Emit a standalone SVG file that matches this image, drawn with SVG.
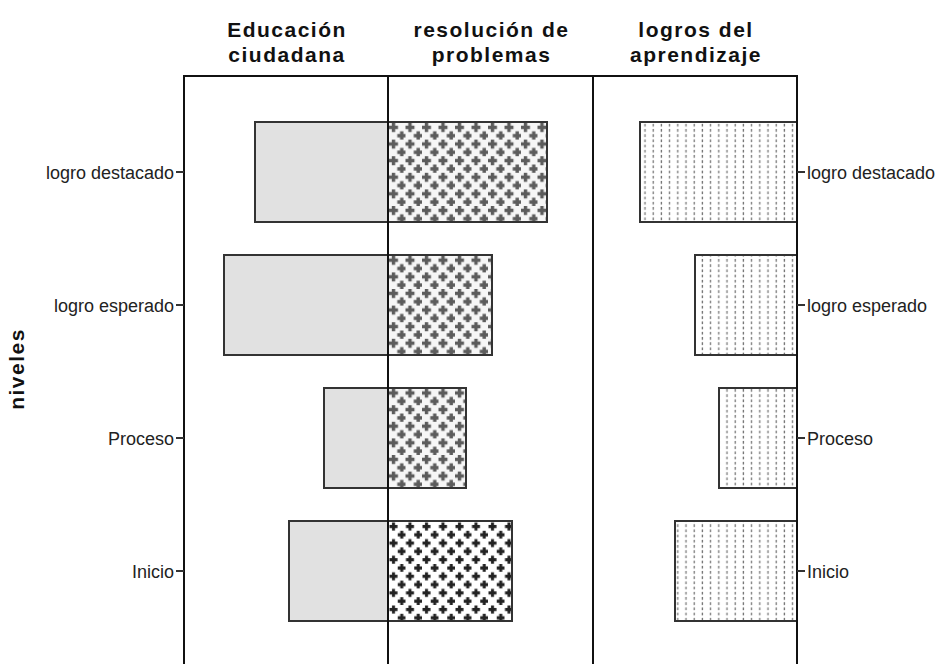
<svg xmlns="http://www.w3.org/2000/svg" width="937" height="664" viewBox="0 0 937 664">
<style>
.hdr{font-family:"Liberation Sans",Arial,sans-serif;font-weight:bold;font-size:21px;letter-spacing:1.5px;fill:#111;text-anchor:middle}
.lbl{font-family:"Liberation Sans",Arial,sans-serif;font-size:18px;fill:#222}
.frame{stroke:#111;stroke-width:2;fill:none}
.tick{stroke:#333;stroke-width:2}
.bar{stroke:#333;stroke-width:2}
.edu{fill:#e1e1e1}
.res{fill:url(#crossA)}
.res4{fill:url(#crossB)}
.log{fill:url(#dash)}
</style>
<defs>
<pattern id="crossA" patternUnits="userSpaceOnUse" width="16.5" height="16.6" x="389" y="123">
<rect width="16.5" height="16.6" fill="#f6f6f6"/>
<path d="M4.5 0v9M0 4.5h9M12.75 8.3v9M8.25 12.8h9" stroke="#5c5c5c" stroke-width="3.4"/>
</pattern>
<pattern id="crossB" patternUnits="userSpaceOnUse" width="16.5" height="16.6" x="389" y="522">
<rect width="16.5" height="16.6" fill="#fff"/>
<path d="M4.5 0.5v8M0.5 4.5h8M12.75 8.8v8M8.75 12.8h8" stroke="#222" stroke-width="3"/>
</pattern>
<pattern id="dash" patternUnits="userSpaceOnUse" width="8.2" height="5.2" x="641" y="123">
<rect width="8.2" height="5.2" fill="#fff"/>
<path d="M4 0.8v2.8" stroke="#777" stroke-width="1.3"/>
</pattern>
</defs>

<g id="headers">
<text class="hdr" x="287" y="37">Educación</text>
<text class="hdr" x="287" y="62">ciudadana</text>
<text class="hdr" x="491.5" y="37">resolución de</text>
<text class="hdr" x="491.5" y="62">problemas</text>
<text class="hdr" x="696" y="37">logros del</text>
<text class="hdr" x="696" y="62">aprendizaje</text>
</g>

<g id="ylabel">
<text class="hdr" transform="translate(24,369) rotate(-90)">niveles</text>
</g>

<g id="bars-educacion">
<rect class="bar edu" x="255" y="122" width="133" height="100"/>
<rect class="bar edu" x="224" y="255" width="164" height="100"/>
<rect class="bar edu" x="324" y="388" width="64" height="100"/>
<rect class="bar edu" x="289" y="521" width="99" height="100"/>
</g>

<g id="bars-resolucion">
<rect class="bar res" x="388" y="122" width="159" height="100"/>
<rect class="bar res" x="388" y="255" width="104" height="100"/>
<rect class="bar res" x="388" y="388" width="78" height="100"/>
<rect class="bar res4" x="388" y="521" width="124" height="100"/>
</g>

<g id="bars-logros">
<rect class="bar log" x="640" y="122" width="157" height="100"/>
<rect class="bar log" x="695" y="255" width="102" height="100"/>
<rect class="bar log" x="719" y="388" width="78" height="100"/>
<rect class="bar log" x="675" y="521" width="122" height="100"/>
</g>

<g id="frame">
<path class="frame" d="M184 665V76H797V665M388 76V665M593 76V665"/>
</g>

<g id="ticks">
<path class="tick" d="M176 172H184M176 305H184M176 438H184M176 571H184M797 172H805M797 305H805M797 438H805M797 571H805"/>
</g>

<g id="left-labels" text-anchor="end">
<text class="lbl" x="174" y="179">logro destacado</text>
<text class="lbl" x="174" y="312">logro esperado</text>
<text class="lbl" x="174" y="445">Proceso</text>
<text class="lbl" x="174" y="578">Inicio</text>
</g>

<g id="right-labels">
<text class="lbl" x="807" y="179">logro destacado</text>
<text class="lbl" x="807" y="312">logro esperado</text>
<text class="lbl" x="807" y="445">Proceso</text>
<text class="lbl" x="807" y="578">Inicio</text>
</g>
</svg>
